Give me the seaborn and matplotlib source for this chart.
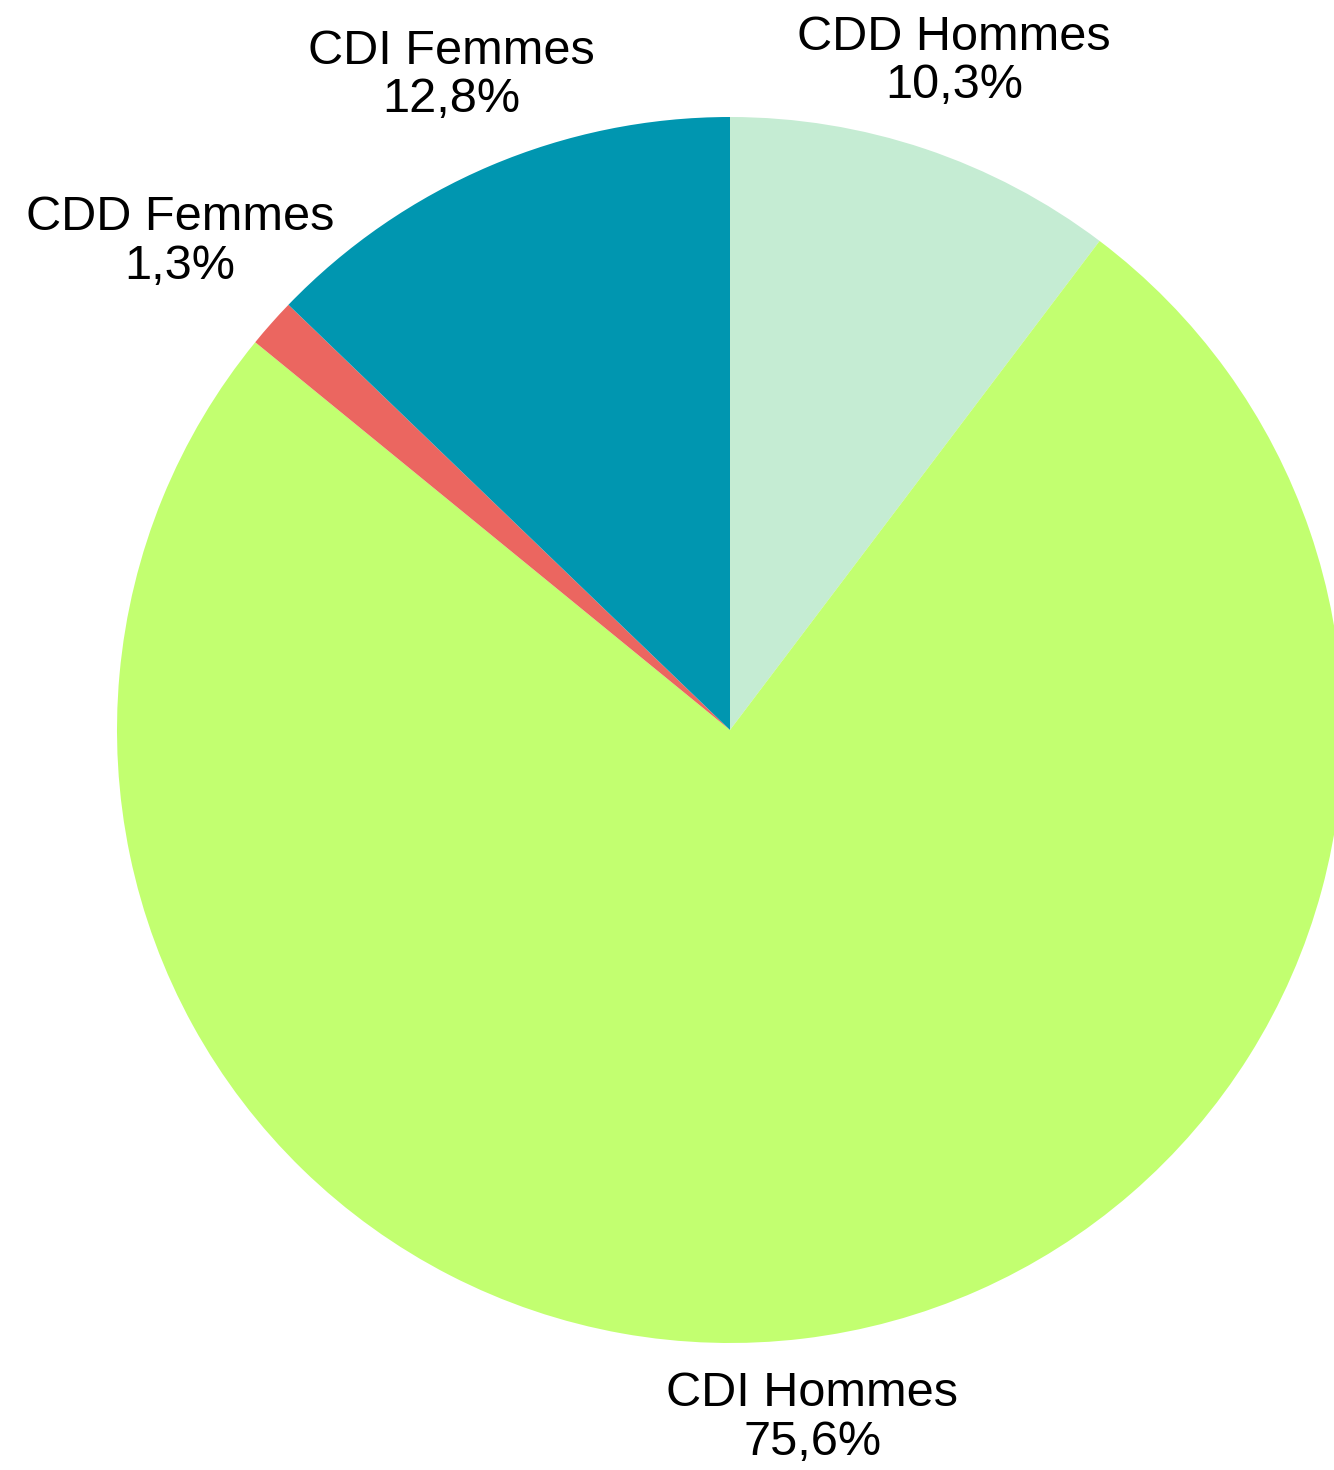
import numpy as np
import seaborn as sns
import matplotlib
matplotlib.use("Agg")
import matplotlib.pyplot as plt

# data, clockwise from 12 o'clock
categories = ["CDD Hommes", "CDI Hommes", "CDD Femmes", "CDI Femmes"]
shares = [10.3, 75.6, 1.3, 12.8]
colors = ["#C5ECD3", "#C2FF70", "#EB6660", "#0096B0"]
label_dist = [1.15, 1.13, 1.2, 1.16]

sns.set_theme(style="white")
plt.rcParams["font.family"] = ["Liberation Sans", "DejaVu Sans"]

W, H = 1334, 1470
fig = plt.figure(figsize=(W / 100, H / 100), dpi=100)
ax = fig.add_axes([0, 0, 1, 1])

cx, cy, r = 730, H - 730, 613
wedges, _ = ax.pie(shares, colors=colors, startangle=90, counterclock=False,
                   radius=r, center=(cx, cy), frame=True,
                   wedgeprops=dict(linewidth=0))
ax.set_xlim(0, W)
ax.set_ylim(0, H)
ax.set_aspect("equal")
ax.axis("off")

for w, name, val, d in zip(wedges, categories, shares, label_dist):
    ang = np.deg2rad((w.theta1 + w.theta2) / 2)
    x = cx + d * r * np.cos(ang)
    y = cy + d * r * np.sin(ang)
    txt = f"{name}\n{val:.1f}%".replace(".", ",")
    ax.text(x, y, txt, ha="center", va="center", fontsize=35,
            color="black", linespacing=1.1)

fig.savefig("out.png", dpi=100)
